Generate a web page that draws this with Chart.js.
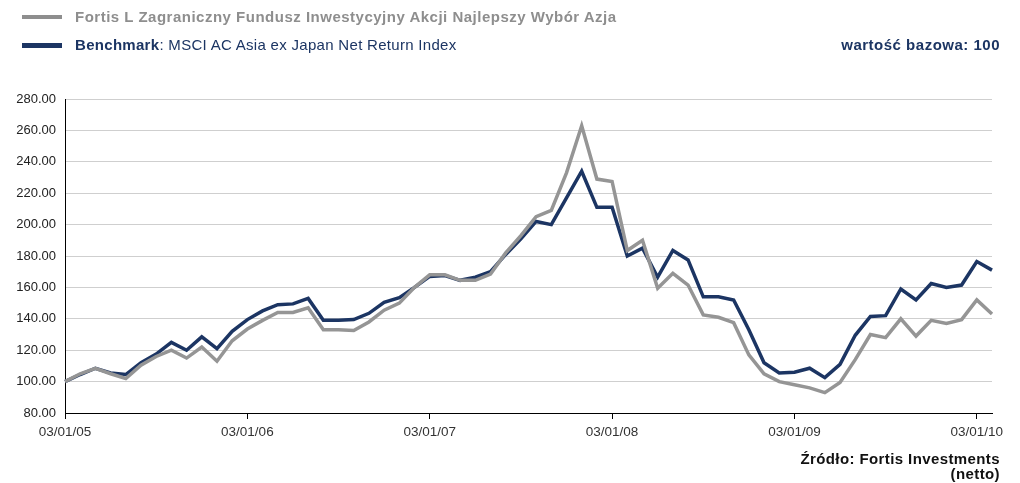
<!DOCTYPE html>
<html>
<head>
<meta charset="utf-8">
<script src="https://cdn.jsdelivr.net/npm/chart.js@4/dist/chart.umd.min.js"></script>
<style>
  body { margin: 0; background: #fff; font-family: "Liberation Sans", Arial, sans-serif; }
  #wrap { position: relative; width: 1020px; height: 483px; }
  #wrap canvas { position: absolute; left: 0; top: 0; }
  .txt { position: absolute; white-space: nowrap; font-size: 15px; line-height: 16px; }
  .swatch { position: absolute; left: 22px; width: 40px; }
</style>
</head>
<body>
<div id="wrap">
  <canvas id="chartElement" width="1020" height="483"></canvas>
  <div class="swatch" style="top:15px;height:4px;background:#8e8e8e"></div>
  <div class="txt" style="left:75px;top:9px;color:#8e8e8e;font-weight:bold;letter-spacing:0.5px">Fortis L Zagraniczny Fundusz Inwestycyjny Akcji Najlepszy Wybór Azja</div>
  <div class="swatch" style="top:43px;height:5px;background:#1c3563"></div>
  <div class="txt" style="left:75px;top:37px;color:#1c3563;letter-spacing:0.3px"><b>Benchmark</b>: MSCI AC Asia ex Japan Net Return Index</div>
  <div class="txt" style="right:20px;top:37px;color:#1c3563;font-weight:bold;letter-spacing:0.5px">wartość bazowa: 100</div>
  <div class="txt" style="right:20px;top:451px;color:#111;font-weight:bold;text-align:right;line-height:15px;letter-spacing:0.4px">Źródło: Fortis Investments<br>(netto)</div>
</div>
<script>
/* Data */
const months = [
    "03/01/05", "03/02/05", "03/03/05", "03/04/05", "03/05/05", "03/06/05", "03/07/05", "03/08/05", "03/09/05", "03/10/05", "03/11/05", "03/12/05",
    "03/01/06", "03/02/06", "03/03/06", "03/04/06", "03/05/06", "03/06/06", "03/07/06", "03/08/06", "03/09/06", "03/10/06", "03/11/06", "03/12/06",
    "03/01/07", "03/02/07", "03/03/07", "03/04/07", "03/05/07", "03/06/07", "03/07/07", "03/08/07", "03/09/07", "03/10/07", "03/11/07", "03/12/07",
    "03/01/08", "03/02/08", "03/03/08", "03/04/08", "03/05/08", "03/06/08", "03/07/08", "03/08/08", "03/09/08", "03/10/08", "03/11/08", "03/12/08",
    "03/01/09", "03/02/09", "03/03/09", "03/04/09", "03/05/09", "03/06/09", "03/07/09", "03/08/09", "03/09/09", "03/10/09", "03/11/09", "03/12/09",
    "03/01/10", "03/02/10"
];

const fundValues = [
    100, 105, 108.5, 105, 102, 110.5, 116, 120, 115, 122, 113, 126,
    133.5, 139, 144, 144, 147, 133, 133, 132.5, 138, 145.5, 150, 160,
    168, 168, 164.5, 164.5, 168.5, 182, 193, 205, 209, 233, 263, 229,
    227.5, 183.5, 190, 159.5, 169, 161.5, 142.5, 141, 137.5, 117, 105, 100,
    98, 96, 93, 99.5, 114, 130, 128, 140, 129, 139, 137, 139.5,
    152, 143
];

const benchmarkValues = [
    100, 104.5, 108.5, 105.5, 104.5, 112, 117.5, 125, 120, 128.5, 121, 132,
    139.5, 145, 149, 149.5, 153, 139, 139, 139.5, 143.5, 150.5, 153.5, 160,
    167, 167.5, 164.5, 166.5, 170, 181, 191, 202, 200, 217, 234, 211,
    211, 180, 185, 166.5, 183.5, 177.5, 154, 154, 152, 133, 112, 105.5,
    106, 108.5, 102.5, 111, 129.5, 141.5, 142, 159, 152, 162.5, 160, 161.5,
    176.5, 171
];

const Y_MIN = 80;
const Y_MAX = 280;
const Y_STEP = 20;

/* Chart */
const config = {
    type: 'line',
    data: {
        labels: months,
        datasets: [
            {
                label: 'Fortis L Zagraniczny Fundusz Inwestycyjny Akcji Najlepszy Wybór Azja',
                data: fundValues,
                borderColor: "#959595",
                borderWidth: 3.5,
                pointRadius: 0,
                tension: 0,
                order: 0
            },
            {
                label: 'Benchmark',
                data: benchmarkValues,
                borderColor: "#1c3563",
                borderWidth: 3.5,
                pointRadius: 0,
                tension: 0,
                order: 1
            }
        ]
    },
    options: {
        responsive: false,
        animation: false,
        layout: { padding: { top: 99, right: 28, bottom: 0, left: 0 } },
        plugins: {
            legend: { display: false },
            tooltip: { enabled: false }
        },
        scales: {
            x: {
                afterFit: function (scale) { scale.height = 70; },
                grid: {
                    drawOnChartArea: false,
                    drawTicks: true,
                    tickLength: 6,
                    color: "#000"
                },
                border: { color: "#000", width: 1 },
                ticks: {
                    autoSkip: false,
                    maxRotation: 0,
                    padding: 5,
                    color: "#333",
                    font: { family: "Liberation Sans", size: 13.5 },
                    callback: function (value, index) {
                        return index % 12 === 0 ? months[index] : null;
                    }
                }
            },
            y: {
                min: Y_MIN,
                max: Y_MAX,
                afterFit: function (scale) { scale.width = 65; },
                grid: {
                    color: "#cfcfcf",
                    lineWidth: 1,
                    drawTicks: false
                },
                border: { color: "#000", width: 1 },
                ticks: {
                    stepSize: Y_STEP,
                    padding: 9,
                    color: "#222",
                    font: { family: "Liberation Sans", size: 13 },
                    callback: function (value) { return value.toFixed(2); }
                }
            }
        }
    }
};

const chart = new Chart(document.getElementById('chartElement'), config);
</script>
</body>
</html>
